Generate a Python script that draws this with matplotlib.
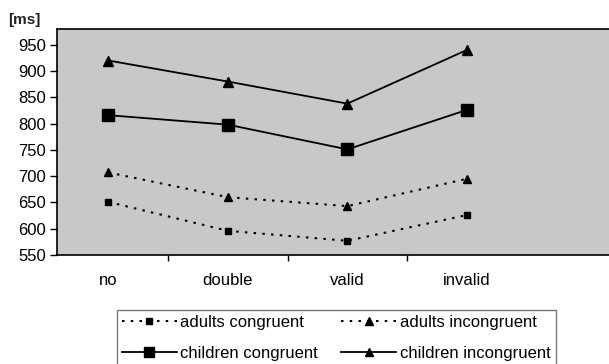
import numpy as np
import matplotlib
matplotlib.use("Agg")
import matplotlib.pyplot as plt
from matplotlib.ticker import FixedLocator

plt.rcParams["font.family"] = ["Liberation Sans", "DejaVu Sans"]

conditions = ["no", "double", "valid", "invalid"]
adults_congruent = [651, 596, 577, 626]
adults_incongruent = [707, 660, 643, 695]
children_congruent = [816, 798, 751, 826]
children_incongruent = [920, 880, 838, 940]
y_ticks = [550, 600, 650, 700, 750, 800, 850, 900, 950]

fig = plt.figure(figsize=(6.09, 3.64), dpi=100)
ax = fig.add_axes([57 / 609, 109 / 364, 1 - 57 / 609, 226 / 364])
ax.set_facecolor("#c8c8c8")

x = np.arange(len(conditions))
dot = (0, (1.2, 3))
l_ac, = ax.plot(x, adults_congruent, color="black", lw=1.5, ls=dot, marker="s",
                ms=5, label="adults congruent")
l_ai, = ax.plot(x, adults_incongruent, color="black", lw=1.5, ls=dot, marker="^",
                ms=6, label="adults incongruent")
l_cc, = ax.plot(x, children_congruent, color="black", lw=1.3, marker="s",
                ms=9, label="children congruent")
l_ci, = ax.plot(x, children_incongruent, color="black", lw=1.3, marker="^",
                ms=7.5, label="children incongruent")

ax.set_xlim(-0.43, 4.19)
ax.set_ylim(550, 980)
ax.set_yticks(y_ticks)
ax.set_xticks(x)
ax.set_xticklabels(conditions)
ax.xaxis.set_minor_locator(FixedLocator([0.5, 1.5, 2.5]))
ax.tick_params(axis="x", which="major", length=0, pad=13, labelsize=12)
ax.tick_params(axis="x", which="minor", length=4, width=1, direction="out")
ax.tick_params(axis="y", length=5, width=1, pad=3, labelsize=12)
ax.spines["right"].set_visible(False)
for s in ["top", "bottom", "left"]:
    ax.spines[s].set_linewidth(1.2)
    ax.spines[s].set_color("black")

fig.text(8 / 609, 1 - 20 / 364, "[ms]", fontsize=11, fontweight="bold",
         va="center", ha="left", color="#222222")

handles = [l_ac, l_cc, l_ai, l_ci]
leg = fig.legend(handles, [h.get_label() for h in handles],
                 loc="upper left", bbox_to_anchor=(117 / 609, 1 - 310 / 364),
                 ncol=2, fontsize=12, frameon=True, fancybox=False,
                 edgecolor="#555555", handlelength=3.3, handletextpad=0.2,
                 columnspacing=1.4, borderpad=0.3, labelspacing=0.95,
                 borderaxespad=0, markerscale=0.85)
leg.get_frame().set_linewidth(1.0)

fig.savefig("out.png", dpi=100)
